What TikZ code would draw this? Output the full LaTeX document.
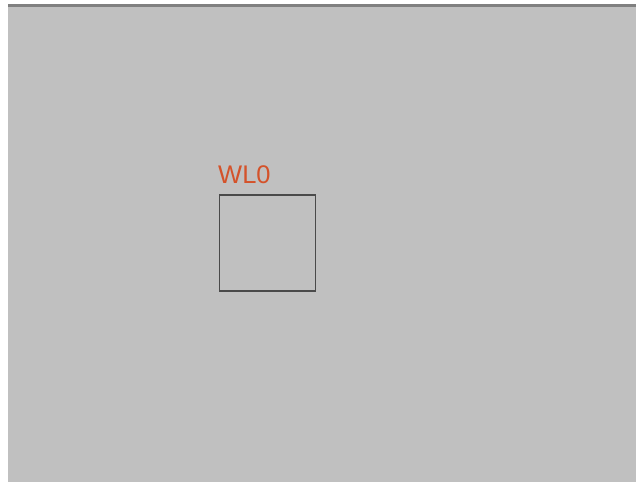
\documentclass[tikz,border=0pt]{standalone}
\usepackage{fontspec}
\setmainfont{Liberation Sans}
\definecolor{panel}{HTML}{C0C0C0}
\definecolor{edge}{HTML}{808080}
\definecolor{boxline}{HTML}{4A4A4A}
\definecolor{labelc}{HTML}{D4522A}
\begin{document}
\begin{tikzpicture}[x=1pt,y=-1pt,
  wellbox/.style={draw=boxline,line width=1.8pt,minimum width=96pt,minimum height=96pt,inner sep=0pt},
  welllabel/.style={text=labelc,font=\fontsize{25.5}{25.5}\selectfont,inner sep=0pt,anchor=south west}]
\useasboundingbox (0,0) rectangle (636,482);
\fill[white] (0,0) rectangle (636,482);
\fill[panel] (8,4) rectangle (636,482);
\fill[edge] (8,4) rectangle (636,6.5);
\node[wellbox] (w0) at (267.5,243) {};
\node[welllabel] (l0) at (218,183.5) {WL0};
\end{tikzpicture}
\end{document}
